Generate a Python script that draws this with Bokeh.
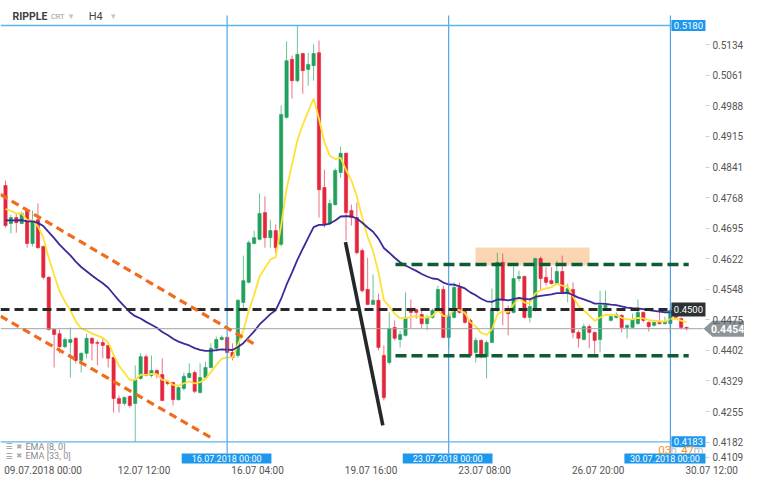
from bokeh.plotting import figure
from bokeh.models import (Range1d, FixedTicker, PrintfTickFormatter, Label, ColumnDataSource)
from bokeh.embed import file_html
from bokeh.resources import INLINE

# ---------------- data (H4 candles, RIPPLE) ----------------
opens = [0.4797, 0.4706, 0.4720, 0.4706, 0.4737, 0.4658, 0.4715, 0.4651, 0.4577, 0.4452,
         0.4442, 0.4411, 0.4421, 0.4431, 0.4378, 0.4395, 0.4431, 0.4421, 0.4421, 0.4414,
         0.4385, 0.4287, 0.4275, 0.4292, 0.4275, 0.4335, 0.4387, 0.4342, 0.4354, 0.4344,
         0.4327, 0.4325, 0.4284, 0.4311, 0.4337, 0.4349, 0.4301, 0.4337, 0.4361, 0.4407,
         0.4428, 0.4433, 0.4397, 0.4390, 0.4517, 0.4565, 0.4658, 0.4668, 0.4732, 0.4672,
         0.4689, 0.4656, 0.4960, 0.5099, 0.5048, 0.5113, 0.5075, 0.5084, 0.5115, 0.4792,
         0.4706, 0.4751, 0.4828, 0.4874, 0.4737, 0.4720, 0.4641, 0.4548, 0.4512, 0.4522,
         0.4390, 0.4373, 0.4457, 0.4428, 0.4438, 0.4498, 0.4500, 0.4488, 0.4466, 0.4481,
         0.4498, 0.4548, 0.4433, 0.4481, 0.4553, 0.4495, 0.4474, 0.4397, 0.4426, 0.4387,
         0.4421, 0.4498, 0.4613, 0.4498, 0.4493, 0.4574, 0.4579, 0.4481, 0.4498, 0.4622,
         0.4577, 0.4569, 0.4562, 0.4591, 0.4538, 0.4548, 0.4445, 0.4428, 0.4459, 0.4445,
         0.4428, 0.4505, 0.4474, 0.4481, 0.4486, 0.4457, 0.4457, 0.4466, 0.4493, 0.4469,
         0.4462, 0.4469, 0.4466, 0.4466, 0.4498, 0.4478, 0.4457]
highs = [0.4809, 0.4727, 0.4730, 0.4735, 0.4739, 0.4737, 0.4754, 0.4653, 0.4579, 0.4454,
         0.4452, 0.4433, 0.4457, 0.4433, 0.4397, 0.4442, 0.4433, 0.4426, 0.4431, 0.4416,
         0.4387, 0.4294, 0.4292, 0.4294, 0.4366, 0.4395, 0.4392, 0.4390, 0.4356, 0.4383,
         0.4330, 0.4327, 0.4316, 0.4349, 0.4371, 0.4354, 0.4371, 0.4375, 0.4419, 0.4435,
         0.4438, 0.4435, 0.4419, 0.4524, 0.4629, 0.4665, 0.4689, 0.4778, 0.4771, 0.4715,
         0.4704, 0.4989, 0.5142, 0.5108, 0.5180, 0.5115, 0.5115, 0.5135, 0.5144, 0.4835,
         0.4763, 0.4838, 0.4890, 0.4876, 0.4751, 0.4756, 0.4646, 0.4624, 0.4584, 0.4538,
         0.4414, 0.4493, 0.4474, 0.4449, 0.4541, 0.4524, 0.4502, 0.4498, 0.4486, 0.4502,
         0.4557, 0.4557, 0.4490, 0.4565, 0.4565, 0.4498, 0.4478, 0.4433, 0.4428, 0.4426,
         0.4550, 0.4636, 0.4634, 0.4510, 0.4603, 0.4593, 0.4581, 0.4526, 0.4624, 0.4627,
         0.4601, 0.4601, 0.4617, 0.4629, 0.4562, 0.4565, 0.4450, 0.4466, 0.4464, 0.4447,
         0.4545, 0.4545, 0.4490, 0.4493, 0.4488, 0.4464, 0.4490, 0.4524, 0.4495, 0.4471,
         0.4471, 0.4495, 0.4483, 0.4502, 0.4505, 0.4481, 0.4459]
lows = [0.4696, 0.4682, 0.4684, 0.4704, 0.4648, 0.4651, 0.4646, 0.4572, 0.4450, 0.4361,
        0.4395, 0.4407, 0.4337, 0.4371, 0.4349, 0.4383, 0.4378, 0.4366, 0.4383, 0.4361,
        0.4253, 0.4253, 0.4270, 0.4265, 0.4183, 0.4332, 0.4340, 0.4337, 0.4335, 0.4280,
        0.4318, 0.4270, 0.4282, 0.4306, 0.4335, 0.4299, 0.4299, 0.4335, 0.4359, 0.4399,
        0.4426, 0.4395, 0.4378, 0.4385, 0.4498, 0.4562, 0.4656, 0.4665, 0.4648, 0.4648,
        0.4636, 0.4651, 0.4957, 0.5005, 0.5044, 0.5017, 0.5036, 0.5048, 0.4720, 0.4696,
        0.4701, 0.4749, 0.4816, 0.4665, 0.4701, 0.4632, 0.4541, 0.4510, 0.4510, 0.4402,
        0.4282, 0.4368, 0.4426, 0.4409, 0.4435, 0.4454, 0.4478, 0.4454, 0.4450, 0.4478,
        0.4495, 0.4431, 0.4409, 0.4478, 0.4490, 0.4466, 0.4385, 0.4373, 0.4383, 0.4335,
        0.4419, 0.4493, 0.4462, 0.4438, 0.4490, 0.4567, 0.4478, 0.4469, 0.4495, 0.4545,
        0.4557, 0.4560, 0.4560, 0.4538, 0.4517, 0.4431, 0.4409, 0.4426, 0.4407, 0.4385,
        0.4397, 0.4502, 0.4471, 0.4478, 0.4445, 0.4431, 0.4454, 0.4464, 0.4469, 0.4447,
        0.4459, 0.4464, 0.4464, 0.4442, 0.4476, 0.4452, 0.4450]
closes = [0.4701, 0.4720, 0.4708, 0.4730, 0.4658, 0.4713, 0.4648, 0.4577, 0.4452, 0.4440,
          0.4411, 0.4428, 0.4428, 0.4378, 0.4395, 0.4431, 0.4419, 0.4419, 0.4414, 0.4383,
          0.4287, 0.4275, 0.4289, 0.4270, 0.4332, 0.4387, 0.4342, 0.4354, 0.4344, 0.4282,
          0.4323, 0.4284, 0.4313, 0.4340, 0.4347, 0.4304, 0.4337, 0.4361, 0.4407, 0.4428,
          0.4433, 0.4397, 0.4385, 0.4522, 0.4569, 0.4660, 0.4672, 0.4730, 0.4672, 0.4689,
          0.4648, 0.4967, 0.5096, 0.5048, 0.5111, 0.5072, 0.5087, 0.5113, 0.4787, 0.4704,
          0.4754, 0.4833, 0.4874, 0.4732, 0.4720, 0.4636, 0.4545, 0.4512, 0.4522, 0.4409,
          0.4289, 0.4454, 0.4431, 0.4440, 0.4481, 0.4493, 0.4493, 0.4466, 0.4481, 0.4498,
          0.4548, 0.4433, 0.4486, 0.4553, 0.4493, 0.4469, 0.4390, 0.4426, 0.4390, 0.4421,
          0.4498, 0.4613, 0.4522, 0.4490, 0.4574, 0.4579, 0.4481, 0.4507, 0.4622, 0.4574,
          0.4565, 0.4562, 0.4591, 0.4541, 0.4550, 0.4445, 0.4431, 0.4459, 0.4445, 0.4426,
          0.4510, 0.4510, 0.4483, 0.4488, 0.4457, 0.4462, 0.4476, 0.4493, 0.4474, 0.4459,
          0.4469, 0.4466, 0.4471, 0.4498, 0.4481, 0.4457, 0.4454]

# EMA values just before the first visible candle (read at the left edge)
ema8_seed = 0.4752
ema33_seed = 0.4714

y_ticks = [0.5134, 0.5061, 0.4988, 0.4915, 0.4841, 0.4768, 0.4695, 0.4622,
           0.4548, 0.4475, 0.4402, 0.4329, 0.4255, 0.4182]
y_tick_bottom = 0.4109           # lowest price label, nudged up like in the original
# date labels: candle index where each label starts, and its text
date_tick_k = [0, 21, 42, 63, 84, 105, 126]
date_tick_labels = ["09.07.2018  00:00", "12.07  12:00", "16.07  04:00", "19.07  16:00",
                    "23.07  08:00", "26.07  20:00", "30.07  12:00"]
week_line_k = [41, 82, 123]
week_line_labels = ["16.07.2018 00:00", "23.07.2018 00:00", "30.07.2018 00:00"]
week_box_k = [(32.6, 49.2), (73.5, 90.1), (114.5, 129.5)]

high_level = 0.5180
low_level = 0.4183
last_price = 0.4454
pivot_level = 0.4500
range_top = 0.4608
range_bottom = 0.4389
range_k = [72.15, 126.4]
channel_upper_k = [-0.925, 45.88]
channel_upper_p = [0.47754, 0.44185]
channel_lower_k = [-0.925, 37.93]
channel_lower_p = [0.44839, 0.41941]
drop_k = [62.9, 69.81]
drop_p = [0.46611, 0.42222]
zone_k = [86.96, 108.06]
zone_p = [0.46053, 0.46484]

# ---------------- derived ----------------
def ema(vals, n, seed):
    a = 2.0 / (n + 1)
    e = seed
    out = []
    for v in vals:
        e = e + a * (v - e)
        out.append(e)
    return out

k = list(range(len(opens)))
GREEN = "#22a05e"
RED = "#e4263c"
cols = [GREEN if c >= o else RED for o, c in zip(opens, closes)]
src = ColumnDataSource(dict(
    k=k, h=highs, l=lows,
    top=[max(o, c) for o, c in zip(opens, closes)],
    bot=[min(o, c) for o, c in zip(opens, closes)],
    col=cols))

X0, X1 = -0.925, 136.72          # whole canvas width in candle units
Y0, Y1 = 0.40976, 0.5240         # whole canvas height in price units
AXIS_K = 129.5                   # right edge of the chart area (price scale)
AXIS_P = 0.41311                 # bottom of the chart area (time scale)
PAD = 0.00105                    # half height of a value box

p = figure(width=744, height=477, x_range=Range1d(X0, X1), y_range=Range1d(Y0, Y1),
           y_axis_location="right", x_axis_location="below", toolbar_location=None,
           output_backend="svg", min_border_left=0, min_border_right=0,
           min_border_top=0, min_border_bottom=0)
p.outline_line_color = None
p.xgrid.visible = False
p.ygrid.visible = False
p.background_fill_color = "white"
p.border_fill_color = "white"

ax = p.yaxis[0]
ax.fixed_location = AXIS_K
ax.ticker = FixedTicker(ticks=y_ticks)
ax.formatter = PrintfTickFormatter(format="%.4f")
ax.axis_line_color = None
ax.major_tick_line_color = "#cfcfcf"
ax.major_tick_out = 4
ax.major_tick_in = 0
ax.minor_tick_line_color = None
ax.major_label_standoff = 3
ax.major_label_text_font = "Roboto"
ax.major_label_text_font_size = "10px"
ax.major_label_text_color = "#555555"

# bottom price label (shown just above the time scale)
bot_lab_p = 0.41455
p.segment(x0=[AXIS_K], y0=[bot_lab_p], x1=[130.24], y1=[bot_lab_p],
          line_color="#cfcfcf", line_width=1)
p.add_layout(Label(x=130.8, y=bot_lab_p, text=f"{y_tick_bottom:.4f}", text_align="left",
                   text_baseline="middle", text_font="Roboto", text_font_size="10px",
                   text_color="#555555"))

# time axis: ticks centred under each label so the labels start at their candle
half_w = [7.18, 4.87, 4.87, 4.87, 4.87, 4.87, 4.87]
x_ticks = [round(a + b, 2) for a, b in zip(date_tick_k, half_w)]
xa = p.xaxis[0]
xa.fixed_location = AXIS_P
xa.ticker = FixedTicker(ticks=x_ticks)
xa.major_label_overrides = {t: s for t, s in zip(x_ticks, date_tick_labels)}
xa.axis_line_color = None
xa.major_tick_line_color = None
xa.minor_tick_line_color = None
xa.major_tick_out = 0
xa.major_label_standoff = 1
xa.major_label_text_font = "Roboto"
xa.major_label_text_font_size = "10px"
xa.major_label_text_color = "#555555"

# resistance zone
p.quad(left=[zone_k[0]], right=[zone_k[1]], bottom=[zone_p[0]], top=[zone_p[1]],
       fill_color="#f9c898", fill_alpha=0.75, line_color=None)

# candles
p.segment(x0="k", y0="h", x1="k", y1="l", line_color="col", line_alpha=0.65,
          line_width=1, source=src)
p.vbar(x="k", width=0.6, top="top", bottom="bot", fill_color="col",
       line_color="col", line_width=0.6, source=src)

# EMAs
p.line(k, ema(closes, 8, ema8_seed), line_color="#ffe135", line_width=1.8)
p.line(k, ema(closes, 33, ema33_seed), line_color="#3d2a9a", line_width=1.8)

# week separators (down to the date boxes)
p.segment(x0=week_line_k, y0=[0.52041] * 3, x1=week_line_k, y1=[0.41551] * 3,
          line_color="#2f93e6", line_width=1)

# price lines
p.segment(x0=[X0], y0=[last_price], x1=[129.15], y1=[last_price],
          line_color="#a3a3a3", line_width=1)
p.segment(x0=[X0, X0], y0=[high_level, low_level], x1=[123.2, 123.2],
          y1=[high_level, low_level], line_color="#5bb4ee", line_width=1.4)

# drawings
p.line([X0, 123.2], [pivot_level, pivot_level], line_color="#262a2d", line_width=3,
       line_dash="9 5")
p.line(range_k, [range_top, range_top], line_color="#0d5c34", line_width=3.5, line_dash="11 5")
p.line(range_k, [range_bottom, range_bottom], line_color="#0d5c34", line_width=3.5,
       line_dash="11 5")
p.line(channel_upper_k, channel_upper_p, line_color="#f26a1c", line_width=3.2, line_dash="8 5")
p.line(channel_lower_k, channel_lower_p, line_color="#f26a1c", line_width=3.2, line_dash="8 5")
p.line(drop_k, drop_p, line_color="#25282b", line_width=3.6)

# value boxes at the right edge of the chart area
for lvl, fc in [(high_level, "#1e98ec"), (low_level, "#1e98ec"), (pivot_level, "#2c3135")]:
    hh = PAD * (1.6 if lvl == pivot_level else 1.25)
    p.quad(left=[123.2], right=[AXIS_K], bottom=[lvl - hh], top=[lvl + hh],
           fill_color=fc, line_color=None)
    p.add_layout(Label(x=126.35, y=lvl, text=f"{lvl:.4f}", text_align="center",
                       text_baseline="middle", text_font="Roboto", text_font_size="9.5px",
                       text_color="white"))

# date boxes at the bottom
for (a, b), txt in zip(week_box_k, week_line_labels):
    p.quad(left=[a], right=[b], bottom=[0.41311], top=[0.41551], fill_color="#1e98ec",
           line_color=None)
    p.add_layout(Label(x=(a + b) / 2, y=0.41431, text=txt, text_align="center",
                       text_baseline="middle", text_font="Roboto", text_font_size="9px",
                       text_color="white"))

# last price tag over the price scale
p.patch([129.15, 130.8, X1, X1, 130.8],
        [last_price, last_price + 0.00192, last_price + 0.00192,
         last_price - 0.00192, last_price - 0.00192],
        fill_color="#8d9498", line_color=None)
p.add_layout(Label(x=133.6, y=last_price, text=f"{last_price:.4f}", text_align="center",
                   text_baseline="middle", text_font="Roboto", text_font_size="10.5px",
                   text_font_style="bold", text_color="white"))

# header
hdr_y = 0.52024
p.add_layout(Label(x=1.3, y=hdr_y, text="RIPPLE", text_baseline="middle", text_font="Roboto",
                   text_font_size="10.5px", text_font_style="bold", text_color="#3d4044"))
p.add_layout(Label(x=8.4, y=hdr_y, text="CRT", text_baseline="middle", text_font="Roboto",
                   text_font_size="7.5px", text_color="#9a9a9a"))
p.add_layout(Label(x=11.7, y=hdr_y, text="▾", text_baseline="middle", text_font="DejaVu Sans",
                   text_font_size="9px", text_color="#c4c4c4"))
p.add_layout(Label(x=15.4, y=hdr_y, text="H4", text_baseline="middle", text_font="Roboto",
                   text_font_size="11px", text_color="#444444"))
p.add_layout(Label(x=19.5, y=hdr_y, text="▾", text_baseline="middle", text_font="DejaVu Sans",
                   text_font_size="9px", text_color="#c4c4c4"))

# indicator legend
for yv, txt in [(0.41718, "EMA [8, 0]"), (0.41479, "EMA [33, 0]")]:
    p.add_layout(Label(x=0.0, y=yv, text="☰", text_baseline="middle", text_font="DejaVu Sans",
                       text_font_size="8px", text_color="#9a9a9a"))
    p.add_layout(Label(x=2.0, y=yv, text="✖", text_baseline="middle", text_font="DejaVu Sans",
                       text_font_size="7px", text_color="#a8a8a8"))
    p.add_layout(Label(x=3.7, y=yv, text=txt, text_baseline="middle", text_font="Roboto",
                       text_font_size="9px", text_color="#8a8a8a"))

# candle countdown
cd_y = 0.41634
for xv, txt, colr in [(120.76, "03", "#f7941d"), (123.03, "h", "#bdbdbd"),
                      (125.0, "47", "#f7941d"), (127.3, "m", "#bdbdbd")]:
    p.add_layout(Label(x=xv, y=cd_y, text=txt, text_baseline="middle", text_font="Roboto",
                       text_font_size="11.5px", text_color=colr))

open("out.html", "w").write(file_html(p, INLINE))
